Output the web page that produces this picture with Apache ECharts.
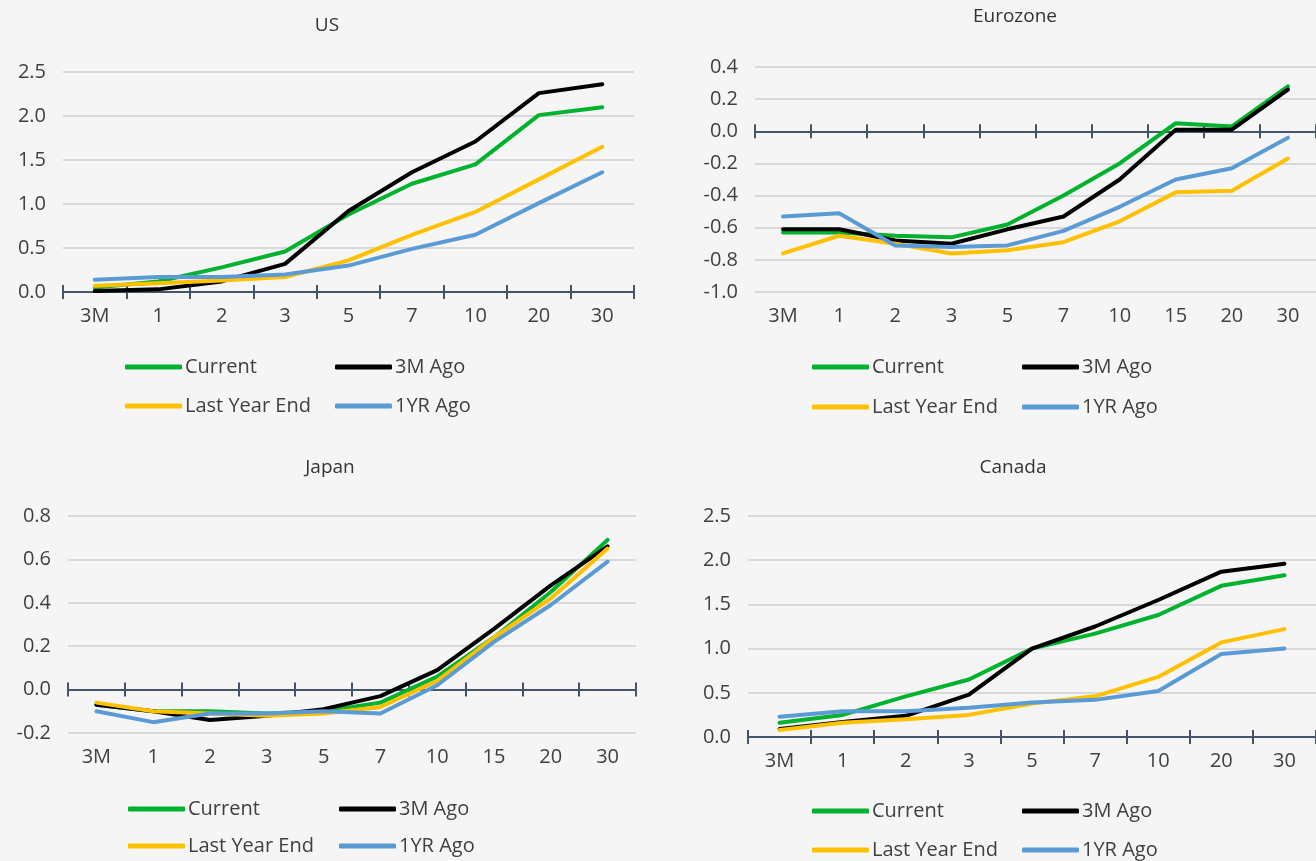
<!DOCTYPE html>
<html>
<head>
<meta charset="utf-8">
<script src="https://cdn.jsdelivr.net/npm/echarts@6/dist/echarts.min.js"></script>
<style>
html,body{margin:0;padding:0;background:#F5F5F5;}
#chart{width:1316px;height:861px;}
</style>
</head>
<body>
<div id="chart"></div>
<script>
// ---- Data ----
const CATS_9 = ['3M','1','2','3','5','7','10','20','30'];
const CATS_10 = ['3M','1','2','3','5','7','10','15','20','30'];
const SERIES_NAMES = ['Current','3M Ago','Last Year End','1YR Ago'];
const SERIES_COLORS = ['#00B22D','#000000','#FFC000','#5B9BD5'];

const US_CURRENT = [0.05,0.12,0.28,0.46,0.88,1.23,1.45,2.01,2.10];
const US_3M_AGO = [0.01,0.03,0.12,0.32,0.92,1.36,1.71,2.26,2.36];
const US_LAST_YEAR_END = [0.07,0.10,0.13,0.17,0.36,0.65,0.91,1.28,1.65];
const US_1YR_AGO = [0.14,0.17,0.17,0.20,0.30,0.49,0.65,1.01,1.36];

const EZ_CURRENT = [-0.63,-0.63,-0.65,-0.66,-0.58,-0.40,-0.20,0.05,0.03,0.28];
const EZ_3M_AGO = [-0.61,-0.61,-0.68,-0.70,-0.61,-0.53,-0.30,0.01,0.01,0.26];
const EZ_LAST_YEAR_END = [-0.76,-0.65,-0.70,-0.76,-0.74,-0.69,-0.56,-0.38,-0.37,-0.17];
const EZ_1YR_AGO = [-0.53,-0.51,-0.71,-0.72,-0.71,-0.62,-0.47,-0.30,-0.23,-0.04];

const JP_CURRENT = [-0.07,-0.10,-0.10,-0.11,-0.10,-0.06,0.06,0.24,0.45,0.69];
const JP_3M_AGO = [-0.07,-0.10,-0.14,-0.12,-0.09,-0.03,0.09,0.28,0.48,0.66];
const JP_LAST_YEAR_END = [-0.06,-0.10,-0.11,-0.12,-0.11,-0.08,0.04,0.24,0.42,0.65];
const JP_1YR_AGO = [-0.10,-0.15,-0.11,-0.11,-0.10,-0.11,0.02,0.22,0.39,0.59];

const CA_CURRENT = [0.16,0.25,0.46,0.65,1.00,1.17,1.38,1.71,1.83];
const CA_3M_AGO = [0.09,0.17,0.24,0.48,1.00,1.25,1.55,1.87,1.96];
const CA_LAST_YEAR_END = [0.08,0.16,0.20,0.25,0.38,0.46,0.68,1.07,1.22];
const CA_1YR_AGO = [0.23,0.29,0.29,0.33,0.39,0.42,0.52,0.94,1.00];

const PANEL_TITLES = ['US','Eurozone','Japan','Canada'];
const PANEL_CATS = [CATS_9, CATS_10, CATS_10, CATS_9];
const PANEL_DATA = [
  [US_CURRENT, US_3M_AGO, US_LAST_YEAR_END, US_1YR_AGO],
  [EZ_CURRENT, EZ_3M_AGO, EZ_LAST_YEAR_END, EZ_1YR_AGO],
  [JP_CURRENT, JP_3M_AGO, JP_LAST_YEAR_END, JP_1YR_AGO],
  [CA_CURRENT, CA_3M_AGO, CA_LAST_YEAR_END, CA_1YR_AGO]
];
const Y_MIN = [0, -1.0, -0.2, 0];
const Y_MAX = [2.5, 0.4, 0.8, 2.5];
const Y_INTERVAL = [0.5, 0.2, 0.2, 0.5];

// ---- Layout ----
const FONT = '"Open Sans", "DejaVu Sans", sans-serif';
const TEXT_COLOR = '#404040';
const AXIS_COLOR = '#44546A';
const GRIDS = [
  {left: 63, top: 72, width: 571, height: 220},
  {left: 755, top: 67, width: 563, height: 225},
  {left: 68, top: 516, width: 568, height: 217},
  {left: 748, top: 516, width: 570, height: 221}
];
const TITLE_POS = [[327, 26], [1015, 17], [330, 468], [1013, 468]];
// legend positions: [col1 icon x, col2 icon x, row1 center y, row2 center y]
const LEGEND_POS = [
  [125, 335, 367, 406],
  [812, 1022, 367, 407],
  [128, 339, 809, 846],
  [812, 1022, 811, 850]
];

const chart = echarts.init(document.getElementById('chart'));

const grid = [], xAxis = [], yAxis = [], series = [], legend = [], graphic = [];
const tickStyle = {color: AXIS_COLOR, width: 2};

for (let p = 0; p < 4; p++) {
  grid.push(GRIDS[p]);
  const cats = PANEL_CATS[p];
  const base = xAxis.length;
  // category labels at the bottom of the plot
  xAxis.push({
    type: 'category', gridIndex: p, data: cats,
    axisLine: {show: false, onZero: false},
    axisTick: {show: false},
    axisLabel: {show: true, interval: 0, fontSize: 20, color: TEXT_COLOR, fontFamily: FONT, margin: 14}
  });
  // axis line at zero with outward ticks
  xAxis.push({
    type: 'category', gridIndex: p, data: cats, position: 'bottom',
    axisLine: {show: true, lineStyle: {color: AXIS_COLOR, width: 2}},
    axisTick: {show: true, interval: 0, length: 7, lineStyle: tickStyle},
    axisLabel: {show: false}
  });
  // inward ticks at zero (paired with a hidden twin value axis) so ticks cross the line
  xAxis.push({
    type: 'category', gridIndex: p, data: cats, position: 'bottom',
    axisLine: {show: true, lineStyle: {color: AXIS_COLOR, width: 2}},
    axisTick: {show: true, inside: true, interval: 0, length: 7, lineStyle: tickStyle},
    axisLabel: {show: false}
  });
}
for (let p = 0; p < 4; p++) {
  yAxis.push({
    type: 'value', gridIndex: p, position: 'left',
    min: Y_MIN[p], max: Y_MAX[p], interval: Y_INTERVAL[p],
    axisLine: {show: false}, axisTick: {show: false},
    splitLine: {show: true, lineStyle: {color: '#D9D9D9', width: 2}},
    axisLabel: {fontSize: 20, color: TEXT_COLOR, fontFamily: FONT, margin: 17,
      formatter: v => v.toFixed(1)}
  });
}
for (let p = 0; p < 4; p++) {
  yAxis.push({
    type: 'value', gridIndex: p, position: 'right', show: false,
    min: Y_MIN[p], max: Y_MAX[p], interval: Y_INTERVAL[p],
    splitLine: {show: false}, axisLabel: {show: false}
  });
}
for (let p = 0; p < 4; p++) {
  for (let s = 0; s < 4; s++) {
    series.push({
      type: 'line', name: SERIES_NAMES[s], xAxisIndex: p * 3, yAxisIndex: p,
      data: PANEL_DATA[p][s], symbol: 'none',
      lineStyle: {width: 4, color: SERIES_COLORS[s], cap: 'round', join: 'round'},
      itemStyle: {color: SERIES_COLORS[s]}
    });
  }
  const lp = LEGEND_POS[p];
  const spots = [[lp[0], lp[2]], [lp[1], lp[2]], [lp[0], lp[3]], [lp[1], lp[3]]];
  for (let s = 0; s < 4; s++) {
    legend.push({
      data: [SERIES_NAMES[s]], left: spots[s][0], top: spots[s][1] - 11,
      padding: 0, itemWidth: 57, itemHeight: 5, icon: 'roundRect',
      selectedMode: false,
      textStyle: {fontSize: 20, lineHeight: 22, color: TEXT_COLOR, fontFamily: FONT, padding: [0, 0, 0, -2]}
    });
  }
  graphic.push({
    type: 'text', x: TITLE_POS[p][0], y: TITLE_POS[p][1],
    style: {text: PANEL_TITLES[p], fontSize: 19, fill: '#333333', fontFamily: FONT,
      align: 'center', verticalAlign: 'middle'}
  });
}

chart.setOption({
  backgroundColor: '#F5F5F5',
  animation: false,
  grid, xAxis, yAxis, series, legend, graphic
});
</script>
</body>
</html>
